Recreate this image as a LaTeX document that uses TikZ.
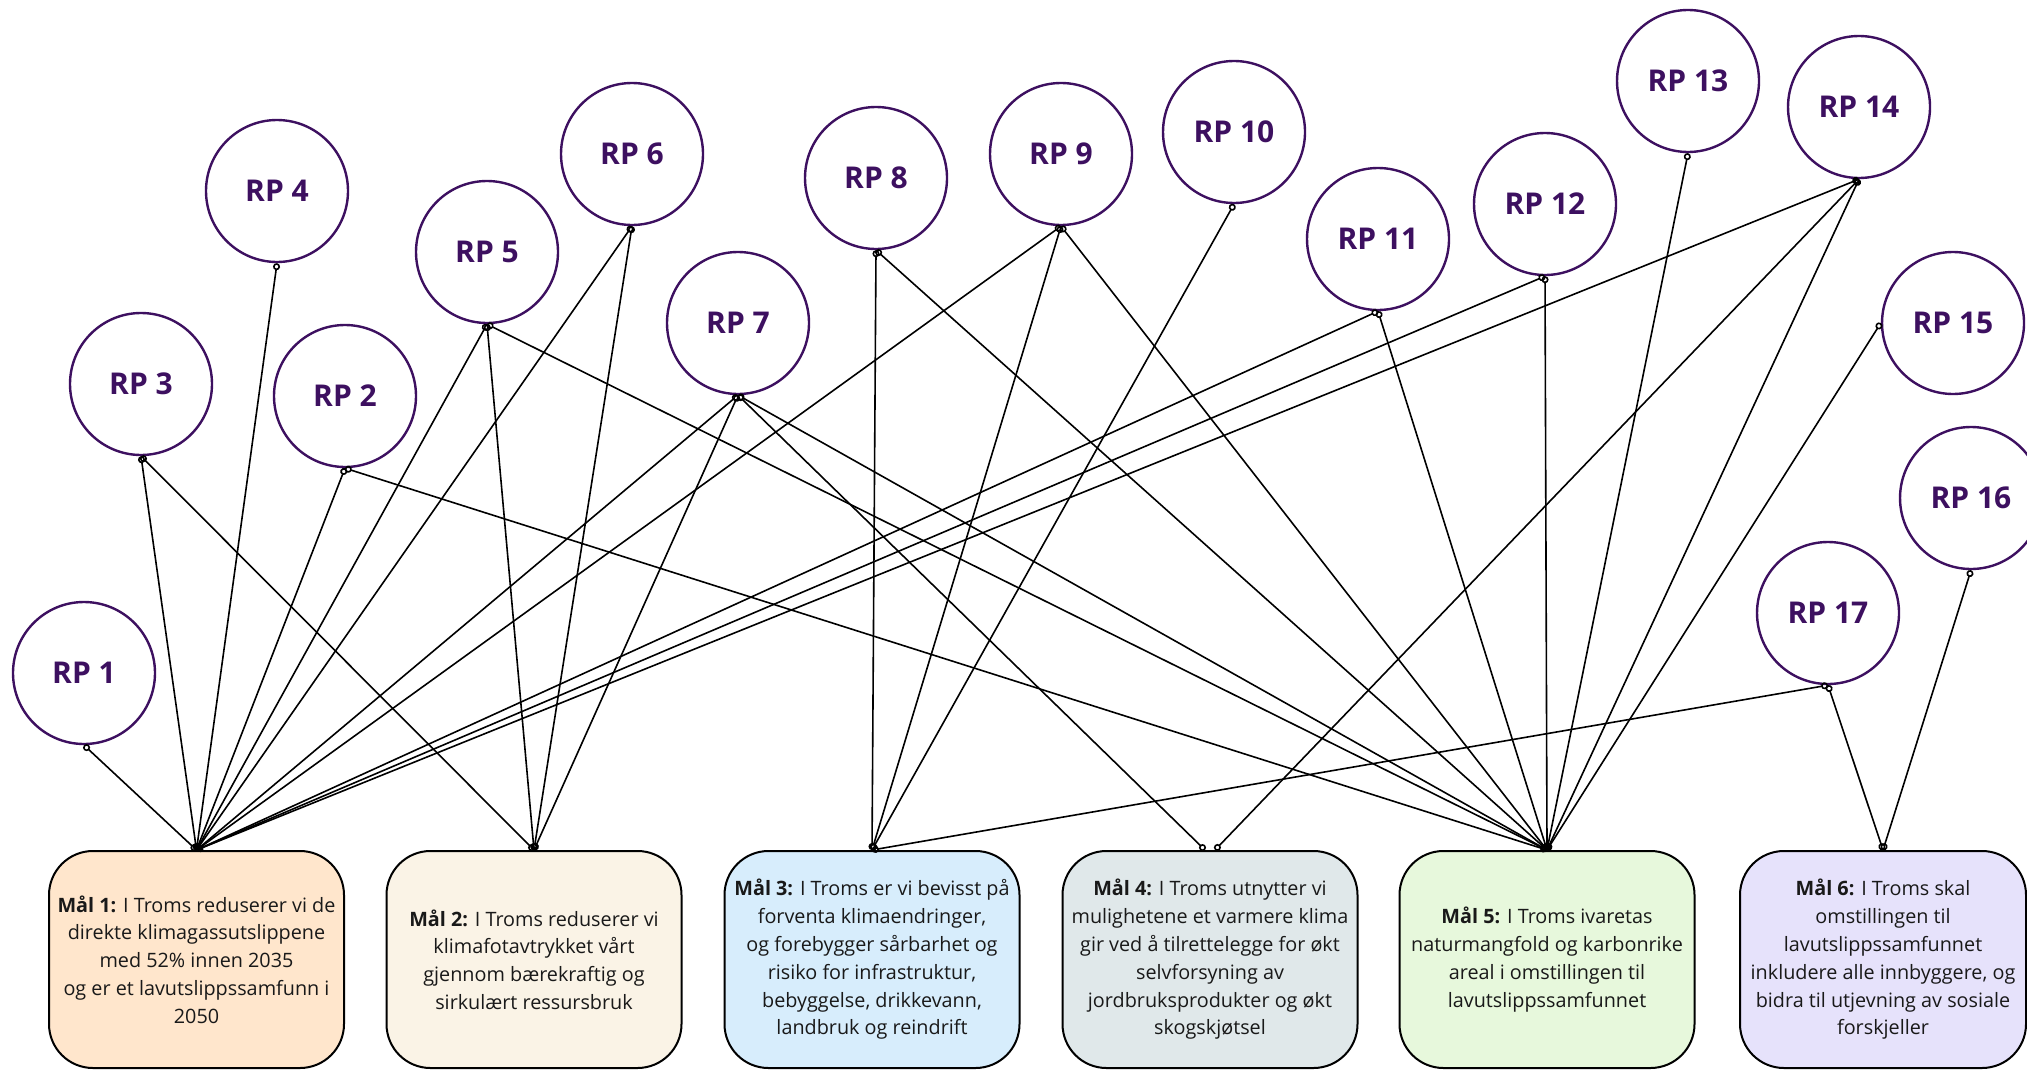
\documentclass[tikz,border=0pt]{standalone}
\usepackage{fontspec}
\setmainfont{Open Sans}
\usetikzlibrary{arrows.meta}
\definecolor{rpfarge}{HTML}{3D1060}
\definecolor{maal1}{HTML}{FFE6CC}
\definecolor{maal2}{HTML}{FAF3E6}
\definecolor{maal3}{HTML}{D7EDFC}
\definecolor{maal4}{HTML}{E0E8EA}
\definecolor{maal5}{HTML}{E7F8DC}
\definecolor{maal6}{HTML}{E6E2FB}
\tikzset{
  rp_c/.style = {circle, draw=rpfarge, fill=white, line width=1.2pt,
    text=rpfarge, minimum size=71pt, inner sep=0pt,
    font=\fontsize{15}{16}\selectfont\bfseries},% boble, reduksjonspunkt
  maal/.style = {rectangle, rounded corners=22pt, draw=black, line width=1pt,
    minimum width=147.5pt, minimum height=108.5pt, align=center,
    text=black!90, font=\fontsize{9.9}{13.9}\selectfont},% boks, maal
  maal_1/.style = {maal, fill=maal1},% oransje
  maal_2/.style = {maal, fill=maal2},% kremhvit
  maal_3/.style = {maal, fill=maal3},% lyseblaa
  maal_4/.style = {maal, fill=maal4},% graa
  maal_5/.style = {maal, fill=maal5},% lysegroenn
  maal_6/.style = {maal, fill=maal6, minimum width=143pt},% lilla
  lenke/.style = {line width=0.8pt,
    arrows={Circle[open,length=3.5pt]-Circle[open,length=3.5pt]}}% kobling
}
\begin{document}
\begin{tikzpicture}[x=0.5pt,y=-0.5pt]
\useasboundingbox (0,0) rectangle (2027,1070);
% boblene
\node [rp_c] (rp1)  at (84,673)   {RP 1};
\node [rp_c] (rp2)  at (345,396)  {RP 2};
\node [rp_c] (rp3)  at (141,384)  {RP 3};
\node [rp_c] (rp4)  at (277,191)  {RP 4};
\node [rp_c] (rp5)  at (487,252)  {RP 5};
\node [rp_c] (rp6)  at (632,154)  {RP 6};
\node [rp_c] (rp7)  at (738,323)  {RP 7};
\node [rp_c] (rp8)  at (876,178)  {RP 8};
\node [rp_c] (rp9)  at (1061,154) {RP 9};
\node [rp_c] (rp10) at (1234,132) {RP 10};
\node [rp_c] (rp11) at (1378,239) {RP 11};
\node [rp_c] (rp12) at (1545,204) {RP 12};
\node [rp_c] (rp13) at (1688,81)  {RP 13};
\node [rp_c] (rp14) at (1859,107) {RP 14};
\node [rp_c] (rp15) at (1953,323) {RP 15};
\node [rp_c] (rp16) at (1971,498) {RP 16};
\node [rp_c] (rp17) at (1828,613) {RP 17};
% maalene
\node [maal_1] (m1) at (196.5,959.5) {\textbf{Mål 1:} I Troms reduserer vi de\\direkte klimagassutslippene\\med 52\% innen 2035\\og er et lavutslippssamfunn i\\2050};
\node [maal_2] (m2) at (534,959.5) {\textbf{Mål 2:} I Troms reduserer vi\\klimafotavtrykket vårt\\gjennom bærekraftig og\\sirkulært ressursbruk};
\node [maal_3] (m3) at (872,959.5) {\textbf{Mål 3:} I Troms er vi bevisst på\\forventa klimaendringer,\\og forebygger sårbarhet og\\risiko for infrastruktur,\\bebyggelse, drikkevann,\\landbruk og reindrift};
\node [maal_4] (m4) at (1210,959.5) {\textbf{Mål 4:} I Troms utnytter vi\\mulighetene et varmere klima\\gir ved å tilrettelegge for økt\\selvforsyning av\\jordbruksprodukter og økt\\skogskjøtsel};
\node [maal_5] (m5) at (1547,959.5) {\textbf{Mål 5:} I Troms ivaretas\\naturmangfold og karbonrike\\areal i omstillingen til\\lavutslippssamfunnet};
\node [maal_6] (m6) at (1883,959.5) {\textbf{Mål 6:} I Troms skal\\omstillingen til\\lavutslippssamfunnet\\inkludere alle innbyggere, og\\bidra til utjevning av sosiale\\forskjeller};
% koblingene
\draw [lenke] (rp1.south) -- (m1.north);
\draw [lenke] (rp2.south) -- (m1.north);
\draw [lenke] (rp2.south) -- (m5.north);
\draw [lenke] (rp3.south) -- (m1.north);
\draw [lenke] (rp3.south) -- (m2.north);
\draw [lenke] (rp4.south) -- (m1.north);
\draw [lenke] (rp5.south) -- (m1.north);
\draw [lenke] (rp5.south) -- (m2.north);
\draw [lenke] (rp5.south) -- (m5.north);
\draw [lenke] (rp6.south) -- (m1.north);
\draw [lenke] (rp6.south) -- (m2.north);
\draw [lenke] (rp7.south) -- (m1.north);
\draw [lenke] (rp7.south) -- (m2.north);
\draw [lenke] (rp7.south) -- ([xshift=-2.5pt]m4.north);
\draw [lenke] (rp7.south) -- (m5.north);
\draw [lenke] (rp8.south) -- (m3.north);
\draw [lenke] (rp8.south) -- (m5.north);
\draw [lenke] (rp9.south) -- (m1.north);
\draw [lenke] (rp9.south) -- (m3.north);
\draw [lenke] (rp9.south) -- (m5.north);
\draw [lenke] (rp10.south) -- (m3.north);
\draw [lenke] (rp11.south) -- (m1.north);
\draw [lenke] (rp11.south) -- (m5.north);
\draw [lenke] (rp12.south) -- (m1.north);
\draw [lenke] (rp12.south) -- (m5.north);
\draw [lenke] (rp13.south) -- (m5.north);
\draw [lenke] (rp14.south) -- (m1.north);
\draw [lenke] (rp14.south) -- ([xshift=2.5pt]m4.north);
\draw [lenke] (rp14.south) -- (m5.north);
\draw [lenke] (rp15.west) -- (m5.north);
\draw [lenke] (rp16.south) -- (m6.north);
\draw [lenke] (rp17.south) -- (m3.north);
\draw [lenke] (rp17.south) -- (m6.north);
\end{tikzpicture}
\end{document}
